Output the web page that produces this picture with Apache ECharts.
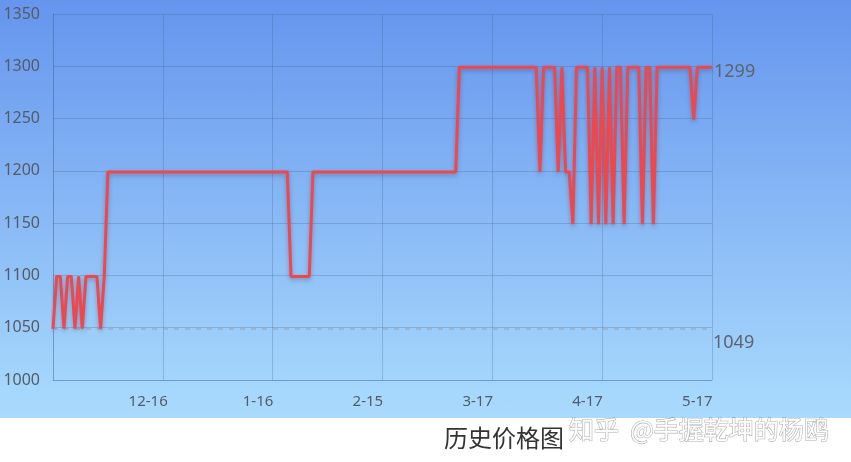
<!DOCTYPE html>
<html>
<head>
<meta charset="utf-8">
<script src="https://cdn.jsdelivr.net/npm/echarts@6/dist/echarts.min.js"></script>
<style>
html,body{margin:0;padding:0;background:#fff;}
#wrap{position:relative;width:851px;height:462px;background:linear-gradient(to bottom,#6595ed 0px,#aadbfd 418px,#ffffff 418px,#ffffff 462px);}
#chart{width:851px;height:462px;}
</style>
</head>
<body>
<div id="wrap"><div id="chart"></div></div>
<script>
// daily price points (181 days)
const prices = [
  1049,1099,1099,1049,1099,1099,1049,1099,1049,1099,1099,1099,1099,1049,1099,
  1199,1199,1199,1199,1199,1199,1199,1199,1199,1199,
  1199,1199,1199,1199,1199,1199,1199,1199,1199,1199,
  1199,1199,1199,1199,1199,1199,1199,1199,1199,1199,
  1199,1199,1199,1199,1199,1199,1199,1199,1199,1199,
  1199,1199,1199,1199,1199,1199,1199,1199,1199,1199,
  1099,1099,1099,1099,1099,1099,
  1199,1199,1199,1199,1199,1199,1199,1199,1199,1199,
  1199,1199,1199,1199,1199,1199,1199,1199,1199,1199,
  1199,1199,1199,1199,1199,1199,1199,1199,1199,1199,
  1199,1199,1199,1199,1199,1199,1199,1199,1199,1199,
  1299,1299,1299,1299,1299,1299,1299,1299,1299,1299,1299,
  1299,1299,1299,1299,1299,1299,1299,1299,1299,1299,1299,
  1199,1299,1299,1299,1299,1199,1299,1199,1199,1149,
  1299,1299,1299,1299,1149,1299,1149,1299,1149,1299,1149,
  1299,1299,1149,1299,1299,1299,1299,1149,1299,1299,1149,
  1299,1299,1299,1299,1299,1299,1299,1299,1299,1299,
  1249,1299,1299,1299,1299,1299
];
const days = prices.map((_, i) => i);
const tickIndex = [26, 56, 86, 116, 146, 176];
const tickLabels = ['12-16', '1-16', '2-15', '3-17', '4-17', '5-17'];
const gridEvery = 30;

const chart = echarts.init(document.getElementById('chart'), null, {renderer: 'canvas'});
const gridColor = 'rgba(70,95,140,0.28)';
const textColor = '#545b66';
const maxPrice = Math.max(...prices);
const minPrice = Math.min(...prices);

chart.setOption({
  backgroundColor: 'transparent',
  animation: false,
  title: {
    text: '历史价格图',
    left: 439,
    top: 421,
    textStyle: {color: '#333', fontSize: 24, fontWeight: 'normal', fontFamily: 'Noto Sans CJK SC'}
  },
  grid: {left: 53, right: 139, top: 14, bottom: 82, containLabel: false, outerBoundsMode: 'none'},
  xAxis: {
    type: 'category',
    data: days,
    boundaryGap: false,
    axisLine: {show: true, lineStyle: {color: gridColor, width: 1}},
    axisTick: {show: false},
    axisLabel: {
      interval: (idx) => tickIndex.indexOf(idx) >= 0,
      formatter: (v) => { const k = tickIndex.indexOf(Number(v)); return k >= 0 ? tickLabels[k] : ''; },
      color: textColor,
      fontSize: 15,
      margin: 14,
      fontFamily: 'Noto Sans'
    },
    splitLine: {
      show: true,
      interval: (idx) => idx % gridEvery === 0,
      lineStyle: {color: gridColor, width: 1}
    }
  },
  yAxis: {
    type: 'value',
    min: 1000,
    max: 1350,
    interval: 50,
    axisLine: {show: true, lineStyle: {color: gridColor, width: 1}},
    axisTick: {show: false},
    axisLabel: {color: textColor, fontSize: 16, margin: 13, fontFamily: 'Noto Sans', formatter: (v) => String(v)},
    splitLine: {show: true, lineStyle: {color: gridColor, width: 1}}
  },
  series: [{
    type: 'line',
    data: prices,
    showSymbol: false,
    symbol: 'none',
    z: 3,
    lineStyle: {color: '#f0474d', width: 3, shadowColor: 'rgba(60,40,60,0.35)', shadowBlur: 4, shadowOffsetY: 2},
    itemStyle: {color: '#f0474d'},
    markLine: {
      silent: true,
      symbol: 'none',
      animation: false,
      z: 2,
      label: {show: false},
      data: [
        {yAxis: minPrice, lineStyle: {color: 'rgba(160,160,170,0.75)', type: [5, 6], width: 1.5}}
      ]
    }
  }]
});

// price labels for max/min, placed through the axis scale
const xEnd = chart.convertToPixel({xAxisIndex: 0}, days[days.length - 1]);
const yMax = chart.convertToPixel({yAxisIndex: 0}, maxPrice);
const yMin = chart.convertToPixel({yAxisIndex: 0}, minPrice);
chart.setOption({
  graphic: [
    {type: 'text', x: xEnd + 2, y: yMax + 5, style: {text: String(maxPrice), fill: '#5d6470', font: '18px "Noto Sans"', verticalAlign: 'middle'}},
    {type: 'text', x: xEnd + 1, y: yMin + 14, style: {text: String(minPrice), fill: '#5d6470', font: '18px "Noto Sans"', verticalAlign: 'middle'}},
    {
      type: 'text',
      x: 569,
      y: 429,
      style: {
        text: '知乎  @手握乾坤的杨鸥',
        fill: '#ffffff',
        font: '25px "Noto Sans CJK SC"',
        verticalAlign: 'middle',
        stroke: 'rgba(110,110,110,0.55)',
        lineWidth: 1.2,
        shadowColor: 'rgba(0,0,0,0.35)',
        shadowBlur: 2,
        shadowOffsetX: 1,
        shadowOffsetY: 1
      }
    }
  ]
});
</script>
</body>
</html>
